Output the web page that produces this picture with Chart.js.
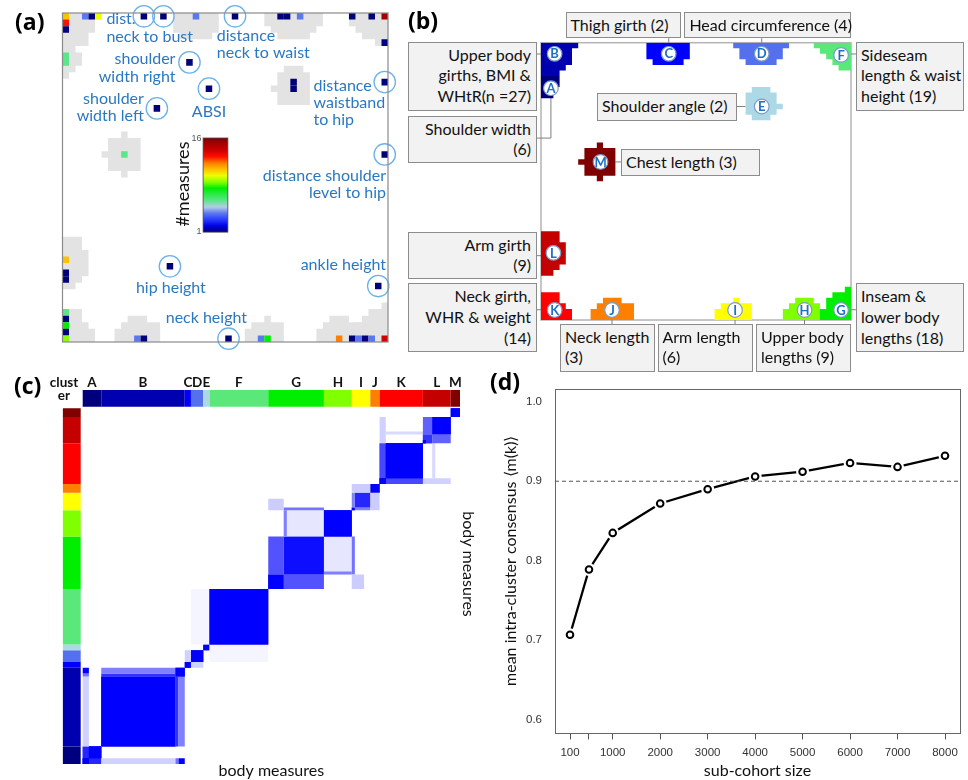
<!DOCTYPE html>
<html>
<head>
<meta charset="utf-8">
<title>Body measure clusters</title>
<script src="https://cdn.jsdelivr.net/npm/chart.js@4.4.1/dist/chart.umd.min.js"></script>
<style>
  html, body { margin: 0; padding: 0; background: #fff; }
  #page { position: relative; width: 968px; height: 780px; overflow: hidden; font-family: Lato, "Open Sans", sans-serif; }
  #page canvas { position: absolute; }
  .panel-tag { position: absolute; font-family: "Open Sans", "DejaVu Sans", sans-serif; font-weight: 700; font-size: 23px; line-height: 23px; color: #000; }
  .callout { position: absolute; box-sizing: border-box; background: #f2f2f2; border: 1px solid #8c8c8c;
             font: 16px/20.8px Lato, sans-serif; color: #111; padding: 2px 5px 0 4px; white-space: nowrap; }
</style>
</head>
<body>
<div id="page">
  <canvas id="somMap" width="400" height="360" style="left:0px;top:0px"></canvas>
  <canvas id="somClusters" width="568" height="330" style="left:400px;top:0px"></canvas>
  <canvas id="consensus" width="480" height="420" style="left:0px;top:360px"></canvas>
  <canvas id="stability" width="488" height="420" style="left:480px;top:360px"></canvas>
  <div class="panel-tag" style="left:15px;top:10px">(a)</div>
  <div class="panel-tag" style="left:408px;top:9px">(b)</div>
  <div class="panel-tag" style="left:14px;top:374px">(c)</div>
  <div class="panel-tag" style="left:490px;top:370px">(d)</div>
</div>
<script>
// ---------------- data ----------------

// clusters of body measures (order used on both axes of the consensus matrix)
const clusterIds     = ['A', 'B', 'C', 'D', 'E', 'F', 'G', 'H', 'I', 'J', 'K', 'L', 'M'];
const clusterSizes   = [6, 27, 2, 4, 2, 19, 18, 9, 6, 3, 14, 9, 3];
const clusterColours = ['#00007f', '#0000b0', '#0000ff', '#5470ec', '#add8e6', '#5be87a', '#00ee00',
                        '#80ff00', '#ffff00', '#ff8000', '#ff0000', '#c40000', '#800000'];

// SOM (a): empty units bordering occupied ones, [first row, [[first col, last col] per row]]
const emptyNeighbourhoods = [
  [0,  [[0, 5], [0, 4], [0, 4], [0, 3], [0, 3], [0, 1], [0, 2], [0, 2], [0, 1], [0, 0]]],
  [0,  [[17, 23], [17, 23], [17, 23], [18, 22]]],
  [0,  [[31, 39], [31, 39], [32, 38], [33, 37]]],
  [0,  [[44, 49], [44, 49], [45, 49], [46, 49], [48, 49]]],
  [8,  [[34, 36], [33, 37], [33, 37], [32, 37], [33, 37], [33, 37]]],
  [18, [[9, 9], [7, 11], [7, 11], [6, 11], [7, 11], [7, 11], [9, 9]]],
  [34, [[0, 2], [0, 2], [0, 3], [0, 3], [0, 3], [0, 3], [0, 2], [0, 1]]],
  [45, [[0, 2], [0, 2], [0, 3], [0, 4], [0, 4]]],
  [46, [[10, 12], [9, 14], [8, 14], [8, 14]]],
  [46, [[31, 31], [29, 33], [28, 33], [28, 33]]],
  [46, [[41, 43], [40, 46], [39, 46], [39, 46]]],
  [44, [[49, 49], [47, 49], [46, 49], [45, 49], [45, 49], [45, 49]]]
];

// SOM (a): occupied units [col, row, number of measures]
const occupiedUnits = [
  [0, 0, 11], [3, 0, 4], [4, 0, 1], [5, 0, 10], [12, 0, 1], [15, 0, 1], [20, 0, 4], [26, 0, 1],
  [33, 0, 1], [34, 0, 1], [36, 0, 4], [44, 0, 1], [47, 0, 1], [49, 0, 15],
  [0, 1, 13], [0, 2, 1], [49, 4, 1], [0, 6, 6], [0, 7, 6], [19, 7, 1], [35, 10, 1], [35, 11, 1],
  [49, 10, 1], [22, 11, 1], [14, 14, 1], [9, 21, 6], [49, 21, 1],
  [0, 37, 11], [16, 38, 1], [0, 39, 1], [0, 40, 1], [48, 41, 1],
  [0, 45, 6], [0, 46, 1], [0, 47, 8], [0, 48, 1], [0, 49, 9], [11, 49, 4], [12, 49, 1], [25, 49, 1],
  [30, 49, 4], [31, 49, 8], [42, 49, 12], [44, 49, 1], [45, 49, 4], [46, 49, 1], [47, 49, 4], [49, 49, 14]
];

// colour for 1..16 measures per unit
const measureColours = ['#000078', '#0000e6', '#2a3cff', '#5a78f0', '#b4cce6', '#5ce68a', '#2ee84a', '#00ee00',
                        '#88ff00', '#ecff00', '#ffc000', '#ff8000', '#ff1000', '#d00000', '#a80000', '#800000'];

// single measures that sit on their own unit
const namedUnits = [
  [12, 0], [15, 0], [26, 0], [19, 7], [22, 11], [14, 14], [49, 10], [49, 21], [16, 38], [48, 41], [25, 49]
];
const namedUnitLabels = [
  ['dist.', 6.74, 0.95, 'left'], ['neck to bust', 6.74, 3.6, 'left'],
  ['distance', 23.7, 3.5, 'left'], ['neck to waist', 23.7, 6.1, 'left'],
  ['shoulder', 17.35, 7.0, 'right'], ['width right', 17.35, 9.7, 'right'],
  ['shoulder', 12.5, 13.05, 'right'], ['width left', 12.5, 15.6, 'right'],
  ['ABSI', 22.5, 15.0, 'center'],
  ['distance', 38.55, 11.1, 'left'], ['waistband', 38.55, 13.7, 'left'], ['to hip', 38.55, 16.25, 'left'],
  ['distance shoulder', 49.7, 24.75, 'right'], ['level to hip', 49.7, 27.3, 'right'],
  ['hip height', 16.65, 41.7, 'center'], ['ankle height', 49.7, 38.3, 'right'], ['neck height', 22.1, 46.3, 'center']
];

// SOM (b): cluster areas, [first row, [[first col, last col] per row]]
const clusterRegions = {
  B: [0,  [[0, 5], [0, 4], [0, 4], [0, 4], [0, 3], [0, 2]]],
  A: [6,  [[0, 2], [0, 2], [0, 1], [0, 1]]],
  C: [0,  [[17, 23], [17, 23], [17, 23], [18, 22]]],
  D: [0,  [[31, 39], [32, 38], [32, 38], [33, 37]]],
  E: [8,  [[34, 36], [33, 37], [33, 37], [33, 38], [33, 37], [34, 36]]],
  F: [0,  [[44, 49], [45, 49], [46, 49], [47, 49], [48, 49]]],
  G: [44, [[49, 49], [47, 49], [46, 49], [46, 49], [45, 49], [45, 49]]],
  H: [46, [[41, 43], [40, 44], [39, 44], [39, 44]]],
  I: [46, [[31, 31], [29, 33], [28, 33], [28, 33]]],
  J: [46, [[10, 12], [9, 14], [8, 14], [8, 14]]],
  K: [45, [[0, 2], [0, 2], [0, 3], [0, 4], [0, 4]]],
  L: [34, [[0, 2], [0, 2], [0, 3], [0, 3], [0, 3], [0, 3], [0, 2], [0, 1]]],
  M: [18, [[9, 9], [7, 11], [7, 11], [6, 11], [7, 11], [7, 11], [9, 9]]]
};
const clusterBadges = {
  A: [1.6, 8.2], B: [2.2, 2.0], C: [20.6, 2.0], D: [35.6, 2.0], E: [35.6, 11.5], F: [48.4, 2.2],
  G: [48.4, 48.2], H: [42.5, 48.2], I: [31.3, 48.2], J: [11.45, 48.2], K: [2.2, 48.2], L: [2.0, 37.9], M: [9.6, 21.5]
};

// callout boxes for (b); '#' is replaced by the cluster size
const callouts = [
  { id: 'C', left: 565.5, top: 11.7, width: 115,   height: 26.7, align: 'left',  lines: ['Thigh girth (#)'] },
  { id: 'D', left: 684.4, top: 11.7, width: 166.6, height: 26.7, align: 'left',  lines: ['Head circumference (#)'] },
  { id: 'B', left: 408,   top: 41.7, width: 129,   height: 69,   align: 'right', lines: ['Upper body', 'girths, BMI &', 'WHtR(n =#)'] },
  { id: 'A', left: 408,   top: 115.7, width: 129,  height: 47.6, align: 'right', lines: ['Shoulder width', '(#)'] },
  { id: 'F', left: 856,   top: 41.7, width: 108,   height: 69,   align: 'left',  lines: ['Sideseam', 'length & waist', 'height (#)'] },
  { id: 'E', left: 597,   top: 93.3, width: 140,   height: 27.4, align: 'left',  lines: ['Shoulder angle (#)'] },
  { id: 'M', left: 621,   top: 149,  width: 139,   height: 27,   align: 'left',  lines: ['Chest length (#)'] },
  { id: 'L', left: 408,   top: 231.7, width: 129,  height: 47.6, align: 'right', lines: ['Arm girth', '(#)'] },
  { id: 'K', left: 408,   top: 283.3, width: 129,  height: 69,   align: 'right', lines: ['Neck girth,', 'WHR & weight', '(#)'] },
  { id: 'G', left: 856,   top: 283.3, width: 108,  height: 69,   align: 'left',  lines: ['Inseam &', 'lower body', 'lengths (#)'] },
  { id: 'J', left: 560,   top: 323.7, width: 94.5, height: 48,   align: 'left',  lines: ['Neck length', '(#)'] },
  { id: 'I', left: 657.5, top: 323.7, width: 95,   height: 48,   align: 'left',  lines: ['Arm length', '(#)'] },
  { id: 'H', left: 756,   top: 323.7, width: 95,   height: 48,   align: 'left',  lines: ['Upper body', 'lengths (#)'] }
];
// leader lines from callouts to clusters, map units (col, row)
const calloutLeaders = [
  [[20.6, -0.8], [20.6, 0]], [[35.6, -0.8], [35.6, 0]], [[-0.65, 2.04], [0, 2.04]],
  [[-0.65, 17.2], [1.6, 17.2], [1.6, 9.5]], [[50, 2.04], [50.8, 2.04]], [[31.6, 11.5], [33, 11.5]],
  [[12, 21.5], [12.9, 21.5]], [[-0.65, 38.4], [0, 38.4]], [[-0.65, 48.15], [0, 48.15]],
  [[11.45, 50], [11.45, 50.75]], [[31.3, 50], [31.3, 50.75]], [[42.5, 50], [42.5, 50.75]], [[50, 48.15], [50.8, 48.15]]
];

// consensus matrix (c): [col from, col to, row from, row to, consensus], mirrored across the diagonal
const consensusBlocks = [
  [0, 6, 0, 6, 0.85], [0, 2, 0, 2, 1], [2, 6, 2, 6, 1],
  [0, 2, 6, 30, 0.18], [0, 2, 30, 31, 0.55], [0, 2, 31, 33, 1],
  [6, 30, 6, 30, 1], [6, 30, 30, 31, 0.8], [6, 30, 31, 33, 0.5], [30, 33, 30, 33, 1],
  [33, 35, 33, 35, 1], [35, 39, 35, 39, 1], [39, 41, 39, 41, 1], [33, 35, 35, 39, 0.18], [35, 41, 41, 60, 0.04],
  [41, 60, 41, 60, 1],
  [60, 65, 60, 65, 1], [65, 78, 65, 78, 0.95], [60, 65, 65, 78, 0.68],
  [65, 78, 78, 87, 0.1], [65, 66, 78, 87, 0.5], [65, 78, 87, 88, 0.55], [60, 65, 87, 91, 0.2],
  [78, 87, 78, 87, 1],
  [87, 88, 87, 88, 1], [88, 93, 88, 93, 0.85], [87, 88, 88, 93, 0.5],
  [93, 96, 93, 96, 1], [87, 93, 93, 96, 0.2],
  [96, 110, 96, 110, 0.72], [98, 110, 98, 110, 1], [96, 98, 96, 98, 1],
  [96, 98, 110, 119, 0.18], [98, 110, 113, 114, 0.15],
  [110, 113, 110, 113, 0.8], [113, 119, 113, 119, 1], [110, 113, 113, 119, 0.62], [110, 111, 110, 111, 1],
  [119, 122, 119, 122, 1]
];

// stability (d)
const cohortSizes   = [100, 500, 1000, 2000, 3000, 4000, 5000, 6000, 7000, 8000];
const meanConsensus = [0.707, 0.789, 0.835, 0.872, 0.890, 0.906, 0.912, 0.923, 0.918, 0.932];
const consensusThreshold = 0.9;
const xTickValues = [100, 500, 1000, 2000, 3000, 4000, 5000, 6000, 7000, 8000];
const xTickLabels = ['100', '', '1000', '2000', '3000', '4000', '5000', '6000', '7000', '8000'];
const yTickValues = [0.6, 0.7, 0.8, 0.9, 1.0];

// ---------------- helpers ----------------
const FONT = 'Lato, "Open Sans", sans-serif';

function runsPolygon(firstRow, runs) {
  const right = [], left = [];
  runs.forEach(([c0, c1], k) => {
    const r = firstRow + k;
    right.push({ x: c1 + 1, y: r }, { x: c1 + 1, y: r + 1 });
    left.push({ x: c0, y: r }, { x: c0, y: r + 1 });
  });
  return right.concat(left.reverse(), [right[0]]);
}
function rectPolygon(x0, y0, x1, y1) {
  return [{ x: x0, y: y0 }, { x: x1, y: y0 }, { x: x1, y: y1 }, { x: x0, y: y1 }, { x: x0, y: y0 }];
}
function shapeDataset(points, colour) {
  return { type: 'line', data: points, backgroundColor: colour, borderColor: 'rgba(0,0,0,0)', borderWidth: 0,
           pointRadius: 0, pointHoverRadius: 0, pointHitRadius: 0, fill: 'shape', tension: 0 };
}
function markerDataset(points, radius, fill, stroke, width) {
  return { type: 'line', data: points, showLine: false, pointStyle: 'circle', pointRadius: radius,
           pointHoverRadius: radius, pointBackgroundColor: fill, pointBorderColor: stroke,
           pointBorderWidth: width, clip: false };
}
function gridOptions(padding, xRange, yRange, flipY) {
  return {
    animation: false, responsive: false, devicePixelRatio: 1, events: [],
    layout: { padding },
    scales: {
      x: { type: 'linear', min: xRange[0], max: xRange[1], display: false },
      y: { type: 'linear', min: yRange[0], max: yRange[1], reverse: flipY, display: false }
    },
    plugins: { legend: { display: false }, tooltip: { enabled: false } }
  };
}
const px = (chart, v) => chart.scales.x.getPixelForValue(v);
const py = (chart, v) => chart.scales.y.getPixelForValue(v);
function text(ctx, str, x, y, font, colour, align, angle) {
  ctx.save();
  ctx.font = font; ctx.fillStyle = colour; ctx.textAlign = align || 'left'; ctx.textBaseline = 'middle';
  ctx.translate(x, y);
  if (angle) ctx.rotate(angle);
  ctx.fillText(str, 0, 0);
  ctx.restore();
}
// first dataset is painted last, so build bottom-up and flip
const paintOrder = list => list.slice().reverse();

// ---------------- (a) SOM of body measures ----------------
const keyBox = [21.6, 19.0, 25.4, 33.3];
const somMapDecor = {
  id: 'somMapDecor',
  afterDatasetsDraw(chart) {
    const { ctx, chartArea: a } = chart;
    ctx.save();
    ctx.strokeStyle = '#8a8a8a'; ctx.lineWidth = 1.2;
    ctx.strokeRect(a.left, a.top, a.right - a.left, a.bottom - a.top);
    const x0 = px(chart, keyBox[0]), x1 = px(chart, keyBox[2]);
    const y0 = py(chart, keyBox[1]), y1 = py(chart, keyBox[3]);
    const g = ctx.createLinearGradient(0, y0, 0, y1);
    measureColours.forEach((c, i) => g.addColorStop((measureColours.length - 1 - i) / (measureColours.length - 1), c));
    ctx.fillStyle = g;
    ctx.fillRect(x0, y0, x1 - x0, y1 - y0);
    ctx.strokeStyle = '#444'; ctx.lineWidth = 0.8;
    ctx.strokeRect(x0, y0, x1 - x0, y1 - y0);
    ctx.restore();
    const keyFont = '9px "Liberation Sans", Arial, sans-serif';
    text(ctx, String(measureColours.length), px(chart, 21.36), py(chart, 19.1), keyFont, '#555', 'right');
    text(ctx, '1', px(chart, 21.36), py(chart, 33.25), keyFont, '#555', 'right');
    text(ctx, '#measures', px(chart, 18.55), py(chart, 26.0), '18px ' + FONT, '#111', 'center', -Math.PI / 2);
    namedUnitLabels.forEach(([s, c, r, al]) => text(ctx, s, px(chart, c), py(chart, r), '16px ' + FONT, '#2b78c2', al));
  }
};
const somSets = [];
emptyNeighbourhoods.forEach(([row0, runs]) => somSets.push(shapeDataset(runsPolygon(row0, runs), '#e3e3e3')));
occupiedUnits.forEach(([c, r, n]) => somSets.push(shapeDataset(rectPolygon(c, r, c + 1, r + 1), measureColours[n - 1])));
somSets.push(markerDataset(namedUnits.map(([c, r]) => ({ x: c + 0.5, y: r + 0.5 })), 10.7, 'rgba(0,0,0,0)', '#6cb2e6', 1.3));
new Chart(document.getElementById('somMap'), {
  type: 'line',
  data: { datasets: paintOrder(somSets) },
  options: gridOptions({ left: 62.5, top: 13, right: 7.5, bottom: 18 }, [0, 50], [0, 50], true),
  plugins: [somMapDecor]
});

// ---------------- (b) clusters on the SOM ----------------
const clusterDecor = {
  id: 'clusterDecor',
  beforeDatasetsDraw(chart) {
    const { ctx, chartArea: a } = chart;
    ctx.save();
    ctx.strokeStyle = '#b4b4b4'; ctx.lineWidth = 1.5;
    ctx.strokeRect(a.left, a.top, a.right - a.left, a.bottom - a.top);
    ctx.strokeStyle = '#808080'; ctx.lineWidth = 1;
    calloutLeaders.forEach(path => {
      ctx.beginPath();
      path.forEach(([c, r], i) => (i ? ctx.lineTo : ctx.moveTo).call(ctx, px(chart, c), py(chart, r)));
      ctx.stroke();
    });
    ctx.restore();
  },
  afterDatasetsDraw(chart) {
    clusterIds.forEach(id => {
      const [c, r] = clusterBadges[id];
      text(chart.ctx, id, px(chart, c), py(chart, r) + 0.5, 'bold 13px ' + FONT, '#1f6fc5', 'center');
    });
  }
};
const clusterSets = [];
clusterIds.forEach((id, k) => {
  const [row0, runs] = clusterRegions[id];
  clusterSets.push(shapeDataset(runsPolygon(row0, runs), clusterColours[k]));
});
clusterSets.push(markerDataset(clusterIds.map(id => ({ x: clusterBadges[id][0], y: clusterBadges[id][1] })), 7.3, '#ffffff', '#7c9cc8', 1.2));
new Chart(document.getElementById('somClusters'), {
  type: 'line',
  data: { datasets: paintOrder(clusterSets) },
  options: gridOptions({ left: 141, top: 42.7, right: 117, bottom: 10 }, [0, 50], [0, 50], true),
  plugins: [clusterDecor]
});
const page = document.getElementById('page');
callouts.forEach(b => {
  const el = document.createElement('div');
  el.className = 'callout';
  Object.assign(el.style, { left: b.left + 'px', top: b.top + 'px', width: b.width + 'px', height: b.height + 'px', textAlign: b.align });
  const n = clusterSizes[clusterIds.indexOf(b.id)];
  el.innerHTML = b.lines.map(l => l.replace('#', n).replace(/&/g, '&amp;')).join('<br>');
  page.appendChild(el);
});

// ---------------- (c) consensus matrix ----------------
const starts = [];
let total = 0;
clusterSizes.forEach(s => { starts.push(total); total += s; });
const consensusColour = v => { const c = Math.round(255 * (1 - v)); return `rgb(${c},${c},255)`; };
const sideBar = [-6.47, -0.65];
const topBar = [total + 0.55, total + 6.25];
const heatDecor = {
  id: 'heatDecor',
  afterDatasetsDraw(chart) {
    const ctx = chart.ctx;
    clusterIds.forEach((id, k) => {
      text(ctx, id, px(chart, starts[k] + clusterSizes[k] / 2), py(chart, total + 8.8), 'bold 13.5px ' + FONT, '#111', 'center');
    });
    text(ctx, 'clust', px(chart, -6.05), py(chart, total + 8.9), 'bold 13.5px ' + FONT, '#111', 'center');
    text(ctx, 'er', px(chart, -6.05), py(chart, total + 4.5), 'bold 13.5px ' + FONT, '#111', 'center');
    text(ctx, 'body measures', px(chart, total / 2), py(chart, -2.4), '16px ' + FONT, '#111', 'center');
    text(ctx, 'body measures', px(chart, total + 2.7), py(chart, 68.6), '16px ' + FONT, '#111', 'center', Math.PI / 2);
  }
};
const heatSets = [];
clusterIds.forEach((id, k) => {
  heatSets.push(shapeDataset(rectPolygon(sideBar[0], starts[k], sideBar[1], starts[k] + clusterSizes[k]), clusterColours[k]));
  heatSets.push(shapeDataset(rectPolygon(starts[k], topBar[0], starts[k] + clusterSizes[k], topBar[1]), clusterColours[k]));
});
consensusBlocks.forEach(([i0, i1, j0, j1, v]) => {
  heatSets.push(shapeDataset(rectPolygon(i0, j0, i1, j1), consensusColour(v)));
  heatSets.push(shapeDataset(rectPolygon(j0, i0, j1, i1), consensusColour(v)));
});
new Chart(document.getElementById('consensus'), {
  type: 'line',
  data: { datasets: paintOrder(heatSets) },
  options: gridOptions({ left: 62.6, top: 29.9, right: 20, bottom: 16 }, [-6.5, total], [0, total + 6.3], false),
  plugins: [heatDecor]
});

// ---------------- (d) consensus against sub-cohort size ----------------
const xPad = (cohortSizes[cohortSizes.length - 1] - cohortSizes[0]) * 0.04;
const yPad = (yTickValues[yTickValues.length - 1] - yTickValues[0]) * 0.04;
const xMin = cohortSizes[0] - xPad, xMax = cohortSizes[cohortSizes.length - 1] + xPad;
const series = cohortSizes.map((s, i) => ({ x: s, y: meanConsensus[i] }));
const frame = {
  id: 'frame',
  beforeDatasetsDraw(chart) {
    const { ctx, chartArea: a } = chart;
    ctx.save();
    ctx.strokeStyle = '#666'; ctx.lineWidth = 1;
    ctx.strokeRect(Math.round(a.left) + 0.5, Math.round(a.top) + 0.5, Math.round(a.right - a.left), Math.round(a.bottom - a.top));
    ctx.restore();
  }
};
const tickFont = { family: '"Liberation Sans", Arial, sans-serif', size: 11.5 };
new Chart(document.getElementById('stability'), {
  type: 'line',
  data: {
    datasets: paintOrder([
      { data: series, borderColor: '#000', borderWidth: 2.3, pointRadius: 0, tension: 0, fill: false },
      { data: series, showLine: false, pointRadius: 6.5, pointBackgroundColor: '#fff', pointBorderWidth: 0, pointBorderColor: '#fff' },
      { data: [{ x: xMin, y: consensusThreshold }, { x: xMax, y: consensusThreshold }], borderColor: '#555',
        borderWidth: 1, borderDash: [4, 3], pointRadius: 0, fill: false },
      { data: series, showLine: false, pointRadius: 3.3, pointBackgroundColor: '#fff', pointBorderColor: '#000', pointBorderWidth: 2 }
    ])
  },
  options: {
    animation: false, responsive: false, devicePixelRatio: 1, events: [],
    layout: { padding: { left: 0, top: 29, right: 8, bottom: 0 } },
    scales: {
      x: {
        type: 'linear', min: xMin, max: xMax,
        afterBuildTicks: ax => { ax.ticks = xTickValues.map(v => ({ value: v })); },
        afterFit: ax => { ax.height = 47.5; },
        grid: { display: true, drawOnChartArea: false, drawTicks: true, tickLength: 7, color: '#555', tickColor: '#555', lineWidth: 1 },
        border: { display: false },
        ticks: { autoSkip: false, maxRotation: 0, minRotation: 0, padding: 6.5, color: '#333', font: tickFont,
                 callback: (v, i) => xTickLabels[i] },
        title: { display: true, text: 'sub-cohort size', color: '#111', font: { family: FONT, size: 16 }, padding: { top: 0, bottom: 0 } }
      },
      y: {
        type: 'linear', min: yTickValues[0] - yPad, max: yTickValues[yTickValues.length - 1] + yPad,
        afterBuildTicks: ax => { ax.ticks = yTickValues.map(v => ({ value: v })); },
        afterFit: ax => { ax.width = 75; },
        grid: { display: false, drawTicks: false },
        border: { display: false },
        ticks: { padding: 13, color: '#333', font: tickFont, callback: v => Number(v).toFixed(1) },
        title: { display: true, text: 'mean intra-cluster consensus \u27e8m(k)\u27e9', color: '#111',
                 font: { family: FONT, size: 16 }, padding: { top: 21, bottom: 0 } }
      }
    },
    plugins: { legend: { display: false }, tooltip: { enabled: false } }
  },
  plugins: [frame]
});
</script>
</body>
</html>
